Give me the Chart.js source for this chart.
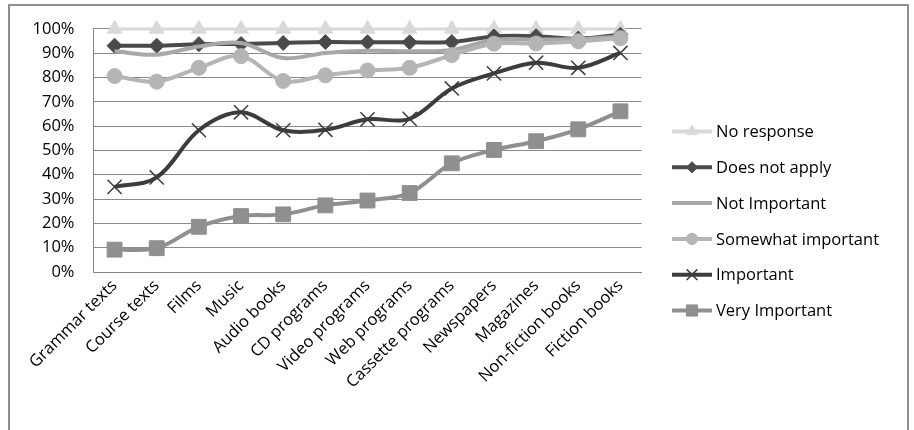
<!DOCTYPE html>
<html>
<head>
<meta charset="utf-8">
<script src="https://cdn.jsdelivr.net/npm/chart.js@4"></script>
<style>
  html, body { margin: 0; padding: 0; background: #fff; }
  #wrap { position: relative; width: 914px; height: 430px; overflow: hidden; }
  #frame { position: absolute; left: 8px; top: 4px; width: 897px; height: 440px; border: 2px solid #8f8f8f; pointer-events: none; }
  canvas { position: absolute; left: 0; top: 0; }
</style>
</head>
<body>
<div id="wrap">
  <canvas id="chart" width="914" height="430"></canvas>
  <div id="frame"></div>
</div>
<script>
const categories = ['Grammar texts', 'Course texts', 'Films', 'Music', 'Audio books', 'CD programs',
    'Video programs', 'Web programs', 'Cassette programs', 'Newspapers', 'Magazines',
    'Non-fiction books', 'Fiction books'];

const noResponse = [100, 100, 100, 100, 100, 100, 100, 100, 100, 100, 100, 100, 100];
const doesNotApply = [93.1, 93.1, 93.7, 93.8, 94.2, 94.6, 94.5, 94.5, 94.6, 96.9, 97.0, 96.0, 97.6];
const notImportant = [90.8, 89.4, 92.8, 94.2, 88.0, 90.1, 91.0, 90.8, 91.3, 95.5, 95.6, 95.8, 96.9];
const somewhatImportant = [80.6, 78.3, 84.0, 88.8, 78.6, 80.9, 82.9, 84.0, 89.2, 93.9, 94.0, 94.9, 96.2];
const important = [35.0, 38.9, 58.3, 65.7, 58.3, 58.5, 62.8, 63.0, 75.5, 81.7, 86.1, 84.0, 90.1];
const veryImportant = [9.2, 9.8, 18.6, 23.0, 23.7, 27.4, 29.4, 32.5, 44.7, 50.2, 53.8, 58.7, 66.1];

const yTicks = [0, 10, 20, 30, 40, 50, 60, 70, 80, 90, 100];

const FONT = '"Open Sans"';
const FONT_SIZE = 16.5;

const series = [
    { label: 'No response', data: noResponse, color: '#d9d9d9', style: 'triangle', radius: 8.5, width: 3 },
    { label: 'Does not apply', data: doesNotApply, color: '#4a4a4a', style: 'rectRot', radius: 7.5, width: 4 },
    { label: 'Not Important', data: notImportant, color: '#a8a8a8', style: false, radius: 0, width: 4 },
    { label: 'Somewhat important', data: somewhatImportant, color: '#b5b5b5', style: 'circle', radius: 7.5, width: 4 },
    { label: 'Important', data: important, color: '#3c3c3c', style: 'crossRot', radius: 10, width: 4 },
    { label: 'Very Important', data: veryImportant, color: '#8f8f8f', style: 'rect', radius: 10.5, width: 4 }
];

// legend drawn on the right like the Excel one
const sideLegend = {
    id: 'sideLegend',
    afterDraw(chart) {
        const ctx = chart.ctx;
        const x0 = 672, x1 = 712, top = 131.5, gap = 35.8;
        ctx.save();
        chart.data.datasets.forEach((ds, i) => {
            const y = top + i * gap;
            ctx.strokeStyle = ds.borderColor;
            ctx.lineWidth = 4;
            ctx.beginPath();
            ctx.moveTo(x0, y);
            ctx.lineTo(x1, y);
            ctx.stroke();
            if (ds.pointStyle) {
                ctx.fillStyle = ds.pointBackgroundColor;
                ctx.strokeStyle = ds.pointBorderColor;
                ctx.lineWidth = ds.pointStyle === 'crossRot' ? 1.5 : 1;
                Chart.helpers.drawPoint(ctx, {
                    pointStyle: ds.pointStyle,
                    radius: ds.pointRadius * 0.75,
                    rotation: 0,
                    borderWidth: ctx.lineWidth
                }, (x0 + x1) / 2, y);
            }
            ctx.fillStyle = '#000';
            ctx.font = FONT_SIZE + 'px ' + FONT;
            ctx.textBaseline = 'middle';
            ctx.textAlign = 'left';
            ctx.fillText(ds.label, 716, y + 1);
        });
        ctx.restore();
    }
};

new Chart(document.getElementById('chart'), {
    type: 'line',
    data: {
        labels: categories,
        datasets: series.map((s, i) => ({
            label: s.label,
            data: s.data,
            borderColor: s.color,
            backgroundColor: s.color,
            borderWidth: s.width,
            pointStyle: s.style,
            pointRadius: s.radius,
            pointBackgroundColor: s.color,
            pointBorderColor: s.color,
            pointBorderWidth: s.style === 'crossRot' ? 1.5 : 1,
            tension: 0.35,
            fill: false,
            clip: false,
            order: series.length - i
        }))
    },
    options: {
        responsive: false,
        animation: false,
        layout: { padding: { top: 26, left: 0, right: 272.5, bottom: 0 } },
        plugins: {
            legend: { display: false },
            tooltip: { enabled: false }
        },
        scales: {
            x: {
                offset: true,
                grid: { display: false, drawTicks: false },
                border: { display: true, color: '#868686', width: 1 },
                ticks: {
                    color: '#000',
                    font: { family: FONT, size: FONT_SIZE },
                    maxRotation: 45,
                    minRotation: 45,
                    autoSkip: false,
                    padding: 4
                },
                afterFit(scale) { scale.height = 158; }
            },
            y: {
                min: 0,
                max: 100,
                afterBuildTicks(scale) { scale.ticks = yTicks.map(v => ({ value: v })); },
                grid: { color: '#8a8a8a', lineWidth: 1, drawTicks: false },
                border: { display: true, color: '#868686', width: 1 },
                ticks: {
                    color: '#000',
                    font: { family: FONT, size: FONT_SIZE },
                    padding: 19,
                    callback: (v) => v + '%'
                },
                afterFit(scale) { scale.width = 93.5; }
            }
        }
    },
    plugins: [sideLegend]
});
</script>
</body>
</html>
